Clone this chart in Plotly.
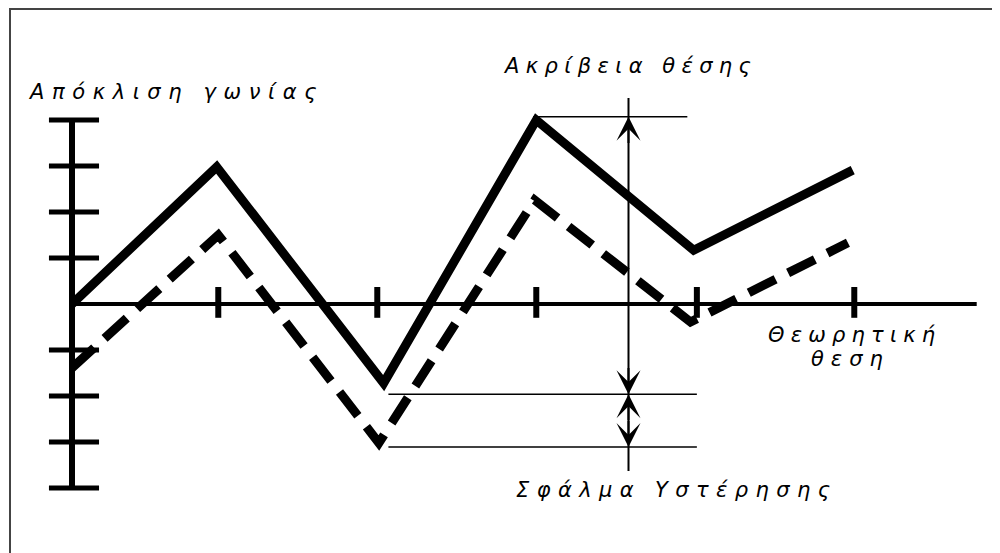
import plotly.graph_objects as go

# ---- data (units: x = theoretical position, y = angle deviation in tick steps) ----
x_ticks = [0.92, 1.92, 2.92, 3.93, 4.92]
y_ticks = [-4, -3, -2, -1, 1, 2, 3, 4]
x_axis_end = 5.69

solid_x = [0, 0.91, 1.96, 2.92, 3.91, 4.91]
solid_y = [0, 2.98, -1.72, 4.0, 1.17, 2.91]

dashed_x = [0, 0.92, 1.93, 2.91, 3.89, 4.88]
dashed_y = [-1.39, 1.5, -3.02, 2.26, -0.39, 1.33]

accuracy_x = 3.50          # position of the measuring line
accuracy_top = 4.07        # highest excursion
hyst_levels = [-1.96, -3.11]  # lowest excursions of the two curves
line_span = [4.48, -3.63]  # extent of the measuring line

labels = {
    "yaxis": "Απόκλιση γωνίας",
    "acc": "Ακρίβεια θέσης",
    "xaxis1": "Θεωρητική",
    "xaxis2": "θεση",
    "hyst": "Σφάλμα Υστέρησης",
}

W, H = 1000, 553
OFF = 8              # page body margin offset
X0, XS = 72 - OFF, 159     # pixel origin & pixels per x unit
Y0, YS = 304 - OFF, 46     # pixel origin & pixels per y unit

fig = go.Figure()

def seg_trace(xs, ys, width, color="black", dash=None):
    fig.add_trace(go.Scatter(x=xs, y=ys, mode="lines", hoverinfo="skip",
                             line=dict(color=color, width=width, dash=dash),
                             showlegend=False))

# y axis
seg_trace([0, 0], [min(y_ticks), max(y_ticks)], 6)
tx, ty = [], []
for v in y_ticks:
    tx += [-0.145, 0.17, None]
    ty += [v, v, None]
seg_trace(tx, ty, 5)

# x axis
seg_trace([0, x_axis_end], [0, 0], 4)
tx, ty = [], []
for v in x_ticks:
    tx += [v, v, None]
    ty += [-0.3, 0.37, None]
seg_trace(tx, ty, 6)

# measuring lines
seg_trace([accuracy_x, accuracy_x], line_span, 2)
seg_trace([2.9, 3.87], [accuracy_top, accuracy_top], 1.5)
hx, hy = [], []
for lv in hyst_levels:
    hx += [1.99, 3.93, None]
    hy += [lv, lv, None]
seg_trace(hx, hy, 1.5)

# curves
seg_trace(dashed_x, dashed_y, 9, dash="30px,14px")
seg_trace(solid_x, solid_y, 9)

# arrow heads
arrows = [
    (accuracy_top, accuracy_top - 0.6),
    (hyst_levels[0], hyst_levels[0] + 0.6),
    (hyst_levels[0], hyst_levels[0] - 0.6),
    (hyst_levels[1], hyst_levels[1] + 0.6),
]
for tip, tail in arrows:
    fig.add_annotation(x=accuracy_x, y=tip, ax=accuracy_x, ay=tail,
                       xref="x", yref="y", axref="x", ayref="y",
                       text="", showarrow=True, arrowhead=3,
                       arrowsize=2, arrowwidth=2, arrowcolor="black")

font = dict(family="DejaVu Sans", size=21, color="black", style="italic")

def txt(s, px, py, ls):
    fig.add_annotation(x=(px - OFF + ls / 2) / W, y=1 - (py - OFF) / H,
                       xref="paper", yref="paper",
                       text=f'<span style="letter-spacing:{ls}px">{s}</span>',
                       showarrow=False, font=font,
                       xanchor="center", yanchor="middle")

txt(labels["yaxis"], 172, 92, 7.6)
txt(labels["acc"], 627, 66, 6.4)
txt(labels["xaxis1"], 851, 335, 6.2)
txt(labels["xaxis2"], 847, 359, 7)
txt(labels["hyst"], 673, 490, 7.4)

# frame
fig.add_shape(type="path", xref="paper", yref="paper",
              path=f"M {(10-OFF)/W},0 L {(10-OFF)/W},{1-(9-OFF)/H} L 1,{1-(9-OFF)/H}",
              line=dict(color="#444", width=2))

fig.update_xaxes(visible=False, range=[-X0 / XS, (W - X0) / XS])
fig.update_yaxes(visible=False, range=[(Y0 - H) / YS, Y0 / YS])
fig.update_layout(width=W, height=H, margin=dict(l=0, r=0, t=0, b=0),
                  paper_bgcolor="white", plot_bgcolor="white")

fig.write_html("out.html")
